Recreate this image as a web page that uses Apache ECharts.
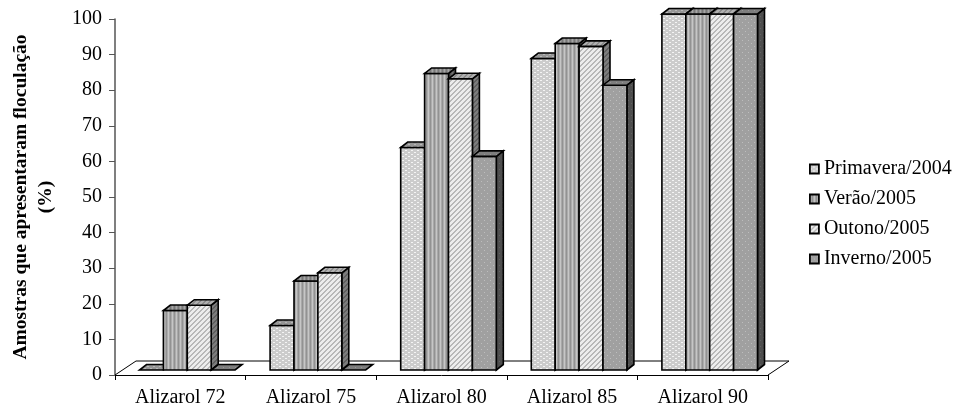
<!DOCTYPE html>
<html>
<head>
<meta charset="utf-8">
<script src="https://cdn.jsdelivr.net/npm/echarts@6/dist/echarts.min.js"></script>
<style>
  html, body { margin: 0; padding: 0; background: #fff; }
  #chart { width: 965px; height: 410px; }
</style>
</head>
<body>
<div id="chart"></div>
<script>
// Categories and percentages per season
const categories = ['Alizarol 72', 'Alizarol 75', 'Alizarol 80', 'Alizarol 85', 'Alizarol 90'];
const seasonNames = ['Primavera/2004', 'Verão/2005', 'Outono/2005', 'Inverno/2005'];
const primavera = [0, 12.5, 62.5, 87.5, 100];
const verao = [16.7, 25, 83.3, 91.7, 100];
const outono = [18.2, 27.3, 81.8, 90.9, 100];
const inverno = [0, 0, 60, 80, 100];
const seasonValues = [primavera, verao, outono, inverno];

const FONT = 'Liberation Serif';

// Pattern helpers (tiny canvases tiled as fills)
function makeCanvas(w, h, paint) {
  const c = document.createElement('canvas');
  c.width = w; c.height = h;
  paint(c.getContext('2d'), w, h);
  return { image: c, repeat: 'repeat' };
}
function dots(bg, fg, spots, w, h) {
  return makeCanvas(w, h, (g) => {
    g.fillStyle = bg; g.fillRect(0, 0, w, h);
    g.fillStyle = fg;
    spots.forEach(s => g.fillRect(s[0], s[1], s[2], s[3]));
  });
}
function stripes(cols) {
  return makeCanvas(cols.length, 4, (g, w, h) => {
    cols.forEach((c, i) => { g.fillStyle = c; g.fillRect(i, 0, 1, h); });
  });
}
function hatch(bg, fg, period) {
  return makeCanvas(period, period, (g, w, h) => {
    g.fillStyle = bg; g.fillRect(0, 0, w, h);
    g.fillStyle = fg;
    for (let x = 0; x < w; x++) for (let y = 0; y < h; y++) {
      const k = (x + y) % period;
      if (k === 0 || k === 1) g.fillRect(x, y, 1, 1);
    }
  });
}

const priSpots = [[0, 0, 2, 1], [3, 2, 2, 1]];
const invSpots = [[1, 1, 1, 1], [4, 4, 1, 1]];
// front / top / side fills for each season
const fills = [
  {
    front: dots('#cccccc', '#f4f4f4', priSpots, 6, 4),
    top: dots('#969696', '#b8b8b8', priSpots, 6, 4),
    side: dots('#6c6c6c', '#8a8a8a', priSpots, 6, 4)
  },
  {
    front: stripes(['#c6c6c6', '#a8a8a8', '#929292', '#acacac']),
    top: stripes(['#a6a6a6', '#8a8a8a', '#787878', '#8f8f8f']),
    side: stripes(['#727272', '#5f5f5f', '#545454', '#666666'])
  },
  {
    front: hatch('#ededed', '#b8b8b8', 5),
    top: hatch('#b0b0b0', '#8c8c8c', 5),
    side: hatch('#7c7c7c', '#5f5f5f', 5)
  },
  {
    front: dots('#a0a0a0', '#bdbdbd', invSpots, 6, 6),
    top: dots('#7e7e7e', '#979797', invSpots, 6, 6),
    side: dots('#4e4e4e', '#626262', invSpots, 6, 6)
  }
];

// Oblique 3D projection settings
const BAR_FRAC = 0.183;   // bar width as a share of a category band
const SHIFT = [7, -5];    // bars stand in the middle of the floor depth
const DEPTH = [7, -5.5];  // bar depth
const FLOOR = [21, -14];  // floor depth
const EDGE = { stroke: '#000', lineWidth: 1.6, lineJoin: 'miter' };

function barRenderer(sIdx) {
  return function (params, api) {
    const cat = api.value(0);
    const v = api.value(1);
    const base = api.coord([cat, 0]);
    const tip = api.coord([cat, v]);
    const bw = api.size([1, 0])[0] * BAR_FRAC;
    const x0 = base[0] + SHIFT[0] - 2 * bw + sIdx * bw;
    const x1 = x0 + bw;
    const yb = base[1] + SHIFT[1];
    const yt = tip[1] + SHIFT[1];
    const dx = DEPTH[0], dy = DEPTH[1];
    const f = fills[sIdx];
    const top = {
      type: 'polygon',
      shape: { points: [[x0, yt], [x1, yt], [x1 + dx, yt + dy], [x0 + dx, yt + dy]] },
      style: Object.assign({ fill: f.top }, EDGE)
    };
    if (v <= 0) return { type: 'group', children: [top] };
    return {
      type: 'group',
      children: [
        {
          type: 'polygon',
          shape: { points: [[x1, yt], [x1 + dx, yt + dy], [x1 + dx, yb + dy], [x1, yb]] },
          style: Object.assign({ fill: f.side }, EDGE)
        },
        {
          type: 'polygon',
          shape: { points: [[x0, yt], [x1, yt], [x1, yb], [x0, yb]] },
          style: Object.assign({ fill: f.front }, EDGE)
        },
        top
      ]
    };
  };
}

function floorRenderer(params, api) {
  const band = api.size([1, 0])[0];
  const a = api.coord([0, 0]);
  const b = api.coord([categories.length - 1, 0]);
  const L = a[0] - band / 2, R = b[0] + band / 2, y = a[1];
  return {
    type: 'polyline',
    shape: { points: [[L, y], [L + FLOOR[0], y + FLOOR[1]], [R + FLOOR[0], y + FLOOR[1]], [R, y]] },
    style: { stroke: '#000', lineWidth: 1, fill: null }
  };
}

const series = [{
  type: 'custom',
  name: 'floor',
  renderItem: floorRenderer,
  data: [[0, 0]],
  z: 1,
  silent: true
}];
seasonNames.forEach((name, i) => {
  series.push({
    type: 'custom',
    name: name,
    renderItem: barRenderer(i),
    itemStyle: { color: fills[i].front },
    data: seasonValues[i].map((v, c) => [c, v]),
    z: 2 + 0.1 * i
  });
});

const chart = echarts.init(document.getElementById('chart'), null, { renderer: 'canvas' });
chart.setOption({
  animation: false,
  backgroundColor: '#fff',
  grid: { left: 112, right: 197, top: 19, bottom: 35 },
  legend: {
    orient: 'vertical',
    left: 804,
    top: 154,
    itemWidth: 9,
    itemHeight: 9,
    itemGap: 10,
    icon: 'rect',
    itemStyle: { borderColor: '#000', borderWidth: 1.8 },
    textStyle: { fontFamily: FONT, fontSize: 20, color: '#000', lineHeight: 20 },
    data: seasonNames.map((n, i) => ({ name: n, itemStyle: { color: fills[i].front } }))
  },
  xAxis: {
    type: 'category',
    data: categories,
    boundaryGap: true,
    axisLine: { lineStyle: { color: '#000', width: 1 } },
    axisTick: { show: true, length: 5, lineStyle: { color: '#000' } },
    axisLabel: { fontFamily: FONT, fontSize: 20, color: '#000', margin: 13 }
  },
  yAxis: {
    type: 'value',
    min: 0,
    max: 100,
    interval: 10,
    name: 'Amostras que apresentaram floculação\n(%)',
    nameLocation: 'middle',
    nameRotate: 90,
    nameGap: 57,
    nameTextStyle: { fontFamily: FONT, fontSize: 19.5, fontWeight: 'bold', color: '#000', lineHeight: 25 },
    axisLine: { show: true, lineStyle: { color: '#555', width: 1.5 } },
    axisTick: { show: true, length: 6, lineStyle: { color: '#555' } },
    axisLabel: { fontFamily: FONT, fontSize: 20, color: '#000', margin: 13 },
    splitLine: { show: false }
  },
  series: series
});
</script>
</body>
</html>
